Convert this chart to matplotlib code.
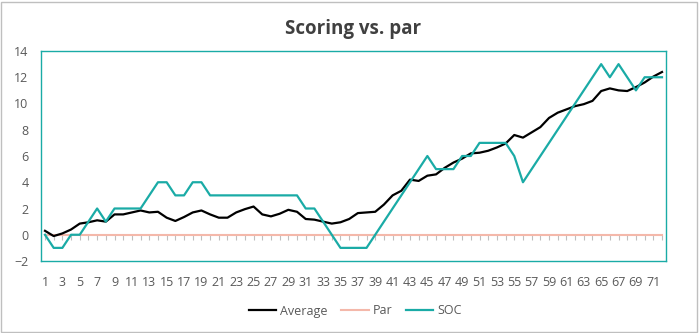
import matplotlib
matplotlib.use('Agg')
import matplotlib.pyplot as plt

plt.rcParams['font.family'] = ['Open Sans', 'DejaVu Sans']

holes = list(range(1, 73))
average = [0.3, -0.1, 0.1, 0.4, 0.85, 0.95, 1.1, 1.0, 1.55, 1.55,
           1.7, 1.85, 1.7, 1.75, 1.3, 1.05, 1.35, 1.7, 1.85, 1.55,
           1.3, 1.3, 1.7, 1.95, 2.15, 1.55, 1.4, 1.6, 1.9, 1.75,
           1.2, 1.15, 1.0, 0.85, 0.95, 1.2, 1.65, 1.7, 1.75, 2.3,
           3.0, 3.35, 4.2, 4.1, 4.5, 4.6, 5.1, 5.5, 5.8, 6.2,
           6.25, 6.4, 6.65, 6.95, 7.6, 7.4, 7.8, 8.2, 8.9, 9.3,
           9.55, 9.8, 9.95, 10.2, 10.95, 11.15, 11.0, 10.95, 11.25, 11.6,
           12.05, 12.4]
par = [0] * 72
soc = [0, -1, -1, 0, 0, 1, 2, 1, 2, 2,
       2, 2, 3, 4, 4, 3, 3, 4, 4, 3,
       3, 3, 3, 3, 3, 3, 3, 3, 3, 3,
       2, 2, 1, 0, -1, -1, -1, -1, 0, 1,
       2, 3, 4, 5, 6, 5, 5, 5, 6, 6,
       7, 7, 7, 7, 6, 4, 5, 6, 7, 8,
       9, 10, 11, 12, 13, 12, 13, 12, 11, 12,
       12, 12]

teal = '#1AABA6'
grey = '#595959'

W, H = 699, 333
fig = plt.figure(figsize=(W / 100, H / 100), dpi=100)
fig.patches.append(plt.Rectangle((1 / W, 1 / H), 1 - 3 / W, 1 - 3 / H,
                                 transform=fig.transFigure, fill=False,
                                 edgecolor='#BFBFBF', linewidth=1))
ax = fig.add_axes([41 / W, (H - 261) / H, 625 / W, 210 / H])

ax.plot(holes, par, color='#F4B8AA', linewidth=1.5, label='Par', zorder=2)
ax.plot(holes, average, color='black', linewidth=1.6, label='Average', zorder=3)
ax.plot(holes, soc, color=teal, linewidth=1.6, label='SOC', zorder=4)

ax.set_xlim(1 - 0.46, 72 + 0.46)
ax.set_ylim(-2, 14)
ax.set_yticks(range(-2, 15, 2))
ax.set_xticks(holes[::2])
ax.tick_params(axis='both', length=0, labelsize=9, labelcolor=grey)
ax.tick_params(axis='x', pad=10.5)
ax.tick_params(axis='y', pad=9)
for s in ax.spines.values():
    s.set_color(teal)
    s.set_linewidth(1)

# small category ticks along the zero line
sec = ax.secondary_xaxis(2 / 16)
sec.set_xticks(holes)
sec.tick_params(length=3.5, color='#BFBFBF', labelbottom=False, width=0.8)
sec.spines['bottom'].set_visible(False)

ax.set_title('Scoring vs. par', fontsize=13.5, fontweight='bold',
             color='#404040', pad=12)

handles, labels = ax.get_legend_handles_labels()
order = [1, 0, 2]
fig.legend([handles[i] for i in order], [labels[i] for i in order],
           loc='center', bbox_to_anchor=(355 / W, 1 - 311 / H), ncol=3,
           frameon=False, fontsize=9, labelcolor=grey, handlelength=2.2,
           handletextpad=0.3, columnspacing=1.1)

plt.savefig('out.png', dpi=100)
